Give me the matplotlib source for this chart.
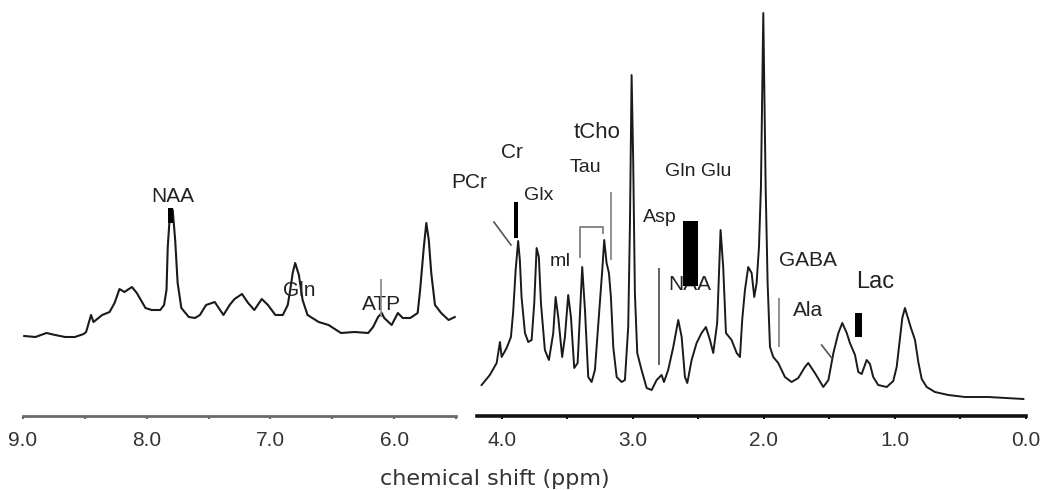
import matplotlib
matplotlib.use("Agg")
import matplotlib.pyplot as plt

# aromatic region (left panel): chemical shift (ppm) / intensity (a.u.)
ppm_low = [8.99, 8.90, 8.81, 8.74, 8.66, 8.58, 8.51, 8.49, 8.45, 8.43, 8.36, 8.30,
           8.26, 8.22, 8.18, 8.12, 8.08, 8.01, 7.96, 7.89, 7.86, 7.84, 7.83, 7.81,
           7.79, 7.77, 7.75, 7.72, 7.66, 7.61, 7.57, 7.52, 7.45, 7.38, 7.33, 7.29,
           7.23, 7.18, 7.13, 7.07, 7.02, 6.96, 6.90, 6.86, 6.84, 6.82, 6.80, 6.77,
           6.74, 6.70, 6.61, 6.53, 6.43, 6.32, 6.21, 6.17, 6.13, 6.10, 6.08, 6.02,
           5.97, 5.93, 5.87, 5.81, 5.79, 5.76, 5.74, 5.72, 5.70, 5.67, 5.62, 5.56,
           5.51]
int_low = [80, 79, 83, 81, 79, 79, 82, 84, 101, 94, 101, 104,
           113, 127, 124, 129, 123, 108, 106, 106, 111, 126, 169, 206,
           206, 176, 133, 108, 99, 98, 101, 111, 114, 101, 111, 117,
           122, 113, 106, 117, 111, 101, 101, 111, 126, 143, 153, 141,
           116, 101, 94, 91, 83, 84, 83, 89, 99, 103, 98, 91,
           103, 98, 98, 103, 126, 169, 193, 176, 143, 111, 103, 96,
           99]

# aliphatic region (right panel)
ppm_high = [4.155, 4.092, 4.040, 4.015, 4.002, 3.964, 3.931, 3.914, 3.895, 3.876,
            3.863, 3.850, 3.824, 3.799, 3.773, 3.753, 3.735, 3.718, 3.702, 3.672,
            3.641, 3.608, 3.590, 3.570, 3.540, 3.519, 3.494, 3.473, 3.448, 3.422,
            3.405, 3.387, 3.366, 3.341, 3.315, 3.290, 3.260, 3.234, 3.219, 3.201,
            3.183, 3.168, 3.150, 3.124, 3.086, 3.061, 3.036, 3.023, 3.010, 2.998,
            2.985, 2.967, 2.934, 2.895, 2.857, 2.819, 2.781, 2.763, 2.731, 2.692,
            2.654, 2.628, 2.603, 2.585, 2.552, 2.514, 2.476, 2.443, 2.412, 2.387,
            2.357, 2.331, 2.311, 2.290, 2.247, 2.208, 2.183, 2.166, 2.145, 2.120,
            2.094, 2.074, 2.056, 2.038, 2.023, 2.005, 1.987, 1.972, 1.954, 1.929,
            1.891, 1.840, 1.789, 1.738, 1.687, 1.662, 1.611, 1.547, 1.508, 1.470,
            1.432, 1.402, 1.368, 1.344, 1.305, 1.280, 1.254, 1.216, 1.191, 1.166,
            1.128, 1.063, 1.013, 0.987, 0.962, 0.944, 0.924, 0.903, 0.878, 0.847,
            0.822, 0.796, 0.758, 0.695, 0.593, 0.466, 0.288, 0.160, 0.020]
int_high = [31, 41, 53, 74, 59, 68, 79, 104, 146, 175,
            156, 119, 83, 74, 76, 113, 168, 159, 113, 66,
            56, 83, 119, 99, 59, 79, 121, 99, 48, 53,
            99, 149, 106, 39, 34, 46, 99, 146, 176, 153,
            143, 119, 69, 39, 34, 36, 89, 189, 341, 256,
            123, 63, 46, 28, 26, 36, 41, 34, 46, 69,
            96, 79, 39, 33, 56, 73, 83, 89, 76, 63,
            93, 186, 149, 83, 76, 63, 59, 96, 126, 149,
            143, 119, 133, 169, 229, 403, 229, 133, 69, 59,
            53, 39, 34, 38, 49, 53, 43, 29, 36, 63,
            83, 93, 83, 73, 61, 44, 42, 56, 52, 39,
            31, 29, 35, 49, 78, 98, 108, 99, 88, 76,
            54, 37, 29, 24, 21, 19, 19, 18, 17]

# peak labels: text, ppm, height, fontsize
labels_low = [("NAA", 7.792, 220, 15), ("Gln", 6.763, 126, 15), ("ATP", 6.100, 111, 15)]
labels_high = [("PCr", 4.252, 234, 15), ("Cr", 3.924, 264, 15), ("Glx", 3.721, 221, 14),
               ("mI", 3.550, 154, 14), ("Tau", 3.359, 249, 14), ("tCho", 3.275, 284, 16),
               ("Asp", 2.794, 198, 14), ("Gln Glu", 2.504, 244, 14), ("NAA", 2.565, 132, 15),
               ("GABA", 1.668, 155, 15), ("Ala", 1.664, 106, 15), ("Lac", 1.149, 134, 17)]

W, H = 1043, 490
fig = plt.figure(figsize=(W / 100, H / 100), dpi=100)

tick_font = ["Liberation Sans", "DejaVu Sans"]
lab_font = ["Liberation Sans", "DejaVu Sans"]
ax_y0 = (H - 416) / H
ax_h = 416 / H

axL = fig.add_axes([23 / W, ax_y0, 433 / W, ax_h])
axR = fig.add_axes([477 / W, ax_y0, 549 / W, ax_h])

axL.plot(ppm_low, int_low, color="#1a1a1a", lw=1.5)
axR.plot(ppm_high, int_high, color="#1a1a1a", lw=1.4)

axL.set_xlim(9.0, 5.5)
axR.set_xlim(4.19, 0.0)
for ax, col, lw in ((axL, "#6a6a6a", 2.0), (axR, "#111111", 2.6)):
    ax.set_ylim(0, 416)
    ax.patch.set_visible(False)
    for s in ("top", "left", "right"):
        ax.spines[s].set_visible(False)
    ax.spines["bottom"].set_color(col)
    ax.spines["bottom"].set_linewidth(lw)
    ax.set_yticks([])
    ax.tick_params(axis="x", which="both", direction="out", length=2.5,
                   width=1.5, color=col, pad=8.5)

axL.set_xticks([9, 8, 7, 6])
axL.set_xticks([8.5, 7.5, 6.5, 5.5], minor=True)
axL.set_xticklabels(["9.0", "8.0", "7.0", "6.0"])
axR.set_xticks([4, 3, 2, 1, 0])
axR.set_xticks([3.5, 2.5, 1.5, 0.5], minor=True)
axR.set_xticklabels(["4.0", "3.0", "2.0", "1.0", "0.0"])
for ax in (axL, axR):
    for t in ax.get_xticklabels():
        t.set_family(tick_font)
        t.set_fontsize(15)
        t.set_color("#333333")

for ax, labs in ((axL, labels_low), (axR, labels_high)):
    for txt, x, y, fs in labs:
        ax.text(x, y, txt, ha="center", va="center", fontsize=fs,
                family=lab_font, color="#222222", clip_on=False, zorder=3)

# markers on the aromatic panel
axL.bar(7.806, 15, width=0.04, bottom=193, color="black", zorder=4)
axL.vlines(6.108, 99, 137, color="#888888", lw=1.2, zorder=4)

# markers on the aliphatic panel
axR.plot([4.061, 3.931], [194, 171], color="#555555", lw=1.2, clip_on=False)
axR.bar(3.893, 36, width=0.027, bottom=178, color="black", zorder=4)
axR.plot([3.405, 3.405, 3.227, 3.227], [159, 189, 189, 183], color="#888888", lw=1.4)
axR.vlines(3.170, 156, 224, color="#888888", lw=1.3)
axR.vlines(2.799, 51, 148, color="#555555", lw=1.3)
axR.bar(2.561, 65, width=0.115, bottom=130, color="black", zorder=4)
axR.vlines(1.882, 69, 118, color="#888888", lw=1.3)
axR.plot([1.560, 1.483], [71, 58], color="#555555", lw=1.2)
axR.bar(1.279, 24, width=0.053, bottom=79, color="black", zorder=4)

fig.text(495 / W, (H - 479) / H, "chemical shift (ppm)", ha="center", va="center",
         fontsize=16, family=["DejaVu Sans"], color="#333333")

fig.savefig("out.png", dpi=100)
